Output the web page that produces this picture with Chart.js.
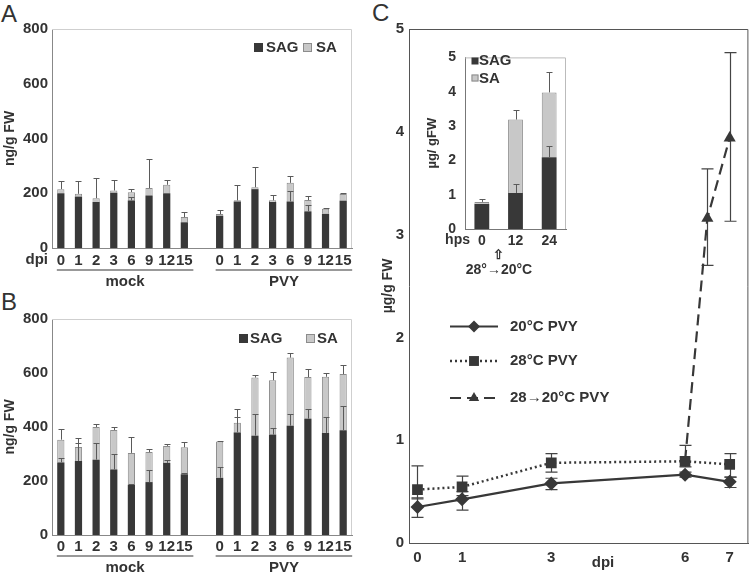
<!DOCTYPE html>
<html>
<head>
<meta charset="utf-8">
<script src="https://cdn.jsdelivr.net/npm/chart.js@4.4.0/dist/chart.umd.min.js"></script>
<style>
  body { margin: 0; background: #fff; width: 756px; height: 574px; overflow: hidden; position: relative; }
  canvas { position: absolute; }
  .panel { position: absolute; font: 24px/24px "Liberation Sans", Arial, sans-serif; color: #333; }
</style>
</head>
<body>
<div class="panel" style="left:1px;top:2px">A</div>
<div class="panel" style="left:1px;top:290px">B</div>
<div class="panel" style="left:372px;top:1px">C</div>
<canvas id="chartA" width="380" height="290" style="left:0;top:0"></canvas>
<canvas id="chartB" width="380" height="289" style="left:0;top:285px"></canvas>
<canvas id="chartC" width="376" height="574" style="left:380px;top:0"></canvas>
<canvas id="chartInset" width="160" height="240" style="left:420px;top:40px"></canvas>
<script>
const FONT = '"Liberation Sans", Arial, sans-serif';
Chart.defaults.font.family = FONT;
Chart.defaults.color = '#333';

// dpi categories for panels A and B
const dpiLabels = ['0', '1', '2', '3', '6', '9', '12', '15'];

// Panel A: ng/g FW (SAG bottom, SA on top, err = top of error bar)
const sagA_mock = [200, 188, 168, 202, 174, 192, 200, 94];
const saA_mock = [15, 10, 14, 8, 30, 27, 31, 19];
const errA_mock = [243, 245, 255, 249, 215, 325, 247, 132];
const sagErrA_mock = [null, null, null, null, 188, null, null, null];
const sagA_pvy = [118, 170, 215, 168, 170, 134, 125, 173];
const saA_pvy = [6, 4, 7, 6, 68, 41, 18, 24];
const errA_pvy = [139, 231, 297, 195, 264, 191, 146, 200];
const sagErrA_pvy = [null, null, null, null, 208, 158, null, null];

// Panel B
const sagB_mock = [269, 274, 279, 243, 186, 196, 267, 225];
const saB_mock = [84, 52, 121, 146, 118, 111, 63, 100];
const errB_mock = [393, 360, 410, 400, 363, 318, 337, 346];
const sagErrB_mock = [285, 341, 341, 300, 189, 241, 279, 230];
const sagB_pvy = [212, 380, 368, 372, 405, 431, 378, 388];
const saB_pvy = [134, 36, 215, 201, 252, 154, 208, 208];
const errB_pvy = [349, 467, 594, 604, 673, 615, 600, 630];
const sagErrB_pvy = [253, 437, 447, 396, 447, 467, 437, 478];

// Panel C: µg/g FW over dpi
const dpiC = [0, 1, 3, 6, 7];
const c20 = [0.35, 0.425, 0.58, 0.665, 0.595];
const c20Lo = [0.25, 0.32, 0.52, 0.64, 0.54];
const c20Hi = [0.44, 0.5, 0.63, 0.69, 0.64];
const c28 = [0.52, 0.545, 0.78, 0.795, 0.765];
const c28Lo = [0.43, 0.46, 0.69, 0.74, 0.64];
const c28Hi = [0.75, 0.65, 0.87, 0.95, 0.87];
const dpiShift = [6, 6.5, 7];
const cShift = [0.8, 3.16, 3.94];
const cShiftLo = [null, 2.7, 3.13];
const cShiftHi = [null, 3.64, 4.77];

// Inset: µg/gFW over hours post shift
const hpsLabels = ['0', '12', '24'];
const sagIn = [0.73, 1.05, 2.09];
const saIn = [0.06, 2.14, 1.89];
const errIn = [0.87, 3.47, 4.57];
const sagErrIn = [null, 1.32, 2.41];

const DARK = '#383838', LIGHT = '#c8c8c8', LIGHT_EDGE = '#8c8c8c';

function joinGroups(m, p) { return m.concat([null], p); }
function addUp(a, b) { return a.map((v, i) => v == null ? null : v + b[i]); }

function label(ctx, s, x, y, size, align) {
  ctx.font = 'bold ' + size + 'px ' + FONT;
  ctx.textAlign = align || 'left';
  ctx.textBaseline = 'middle';
  ctx.fillStyle = '#333';
  ctx.fillText(s, x, y);
}

function frameTopRight(chart, color) {
  const { ctx, chartArea: { left, top, right, bottom } } = chart;
  ctx.save();
  ctx.strokeStyle = color;
  ctx.lineWidth = 1;
  ctx.beginPath();
  ctx.moveTo(left, top + 0.5);
  ctx.lineTo(right - 0.5, top + 0.5);
  ctx.lineTo(right - 0.5, bottom);
  ctx.stroke();
  ctx.restore();
}

function square(ctx, x, y, size, fill, edge) {
  ctx.fillStyle = fill;
  ctx.fillRect(x, y, size, size);
  if (edge) {
    ctx.strokeStyle = edge;
    ctx.lineWidth = 1;
    ctx.strokeRect(x + 0.5, y + 0.5, size - 1, size - 1);
  }
}

// vertical error bars on stacked bars (upper side only)
const barErrors = {
  id: 'barErrors',
  afterDatasetsDraw(chart, args, o) {
    const { ctx, scales: { x, y } } = chart;
    ctx.save();
    ctx.strokeStyle = o.color;
    ctx.lineWidth = 1;
    o.sets.forEach(s => s.from.forEach((v, i) => {
      const e = s.to[i];
      if (v == null || e == null) return;
      const px = Math.round(x.getPixelForValue(i)) + 0.5;
      const y0 = y.getPixelForValue(v), y1 = Math.round(y.getPixelForValue(e)) + 0.5;
      ctx.beginPath();
      ctx.moveTo(px, y0);
      ctx.lineTo(px, y1);
      ctx.moveTo(px - o.cap, y1);
      ctx.lineTo(px + o.cap, y1);
      ctx.stroke();
    }));
    ctx.restore();
  }
};

function barChart(id, d, geo) {
  const sag = joinGroups(d.sag[0], d.sag[1]);
  const sa = joinGroups(d.sa[0], d.sa[1]);
  const total = addUp(sag, sa);
  const err = joinGroups(d.err[0], d.err[1]);
  const sagErr = joinGroups(d.sagErr[0], d.sagErr[1]);
  return new Chart(document.getElementById(id), {
    type: 'bar',
    data: {
      labels: dpiLabels.concat([''], dpiLabels),
      datasets: [
        { label: 'SAG', data: sag, backgroundColor: DARK, borderWidth: 0, barPercentage: 0.41, categoryPercentage: 1 },
        { label: 'SA', data: sa, backgroundColor: LIGHT, borderColor: LIGHT_EDGE, borderWidth: 1, barPercentage: 0.41, categoryPercentage: 1 }
      ]
    },
    options: {
      responsive: false,
      animation: false,
      layout: { padding: { top: geo.top, right: geo.right, left: 0, bottom: 0 } },
      plugins: {
        legend: { display: false },
        tooltip: { enabled: false },
        barErrors: { cap: 3, color: '#5a5a5a', sets: [{ from: total, to: err }, { from: sag, to: sagErr }] }
      },
      scales: {
        x: {
          stacked: true,
          grid: { display: false, drawTicks: false },
          border: { color: '#888' },
          ticks: { autoSkip: false, maxRotation: 0, padding: geo.tickPad, color: '#333', font: { size: 15, weight: 'bold' } },
          afterFit: s => { s.height = geo.xHeight; }
        },
        y: {
          stacked: true,
          min: 0,
          max: 800,
          grid: { display: false, drawTicks: false },
          border: { color: '#888' },
          ticks: { stepSize: 200, padding: 4, color: '#333', font: { size: 15, weight: 'bold' } },
          title: { display: true, text: 'ng/g FW', color: '#333', font: { size: 14, weight: 'bold' }, padding: { top: 2, bottom: 0 } },
          afterFit: s => { s.width = 52; }
        }
      }
    },
    plugins: [barErrors, { id: 'extras', afterDraw: ch => geo.extras(ch) }]
  });
}

function groupUnderlines(chart, lineDy, textDy) {
  const { ctx, chartArea: { bottom }, scales: { x } } = chart;
  const groups = [['mock', 0, 7], ['PVY', 9, 16]];
  ctx.save();
  ctx.strokeStyle = '#777';
  ctx.lineWidth = 1.5;
  groups.forEach(([name, a, b]) => {
    const x0 = x.getPixelForValue(a) - 4, x1 = x.getPixelForValue(b) + 9;
    ctx.beginPath();
    ctx.moveTo(x0, bottom + lineDy);
    ctx.lineTo(x1, bottom + lineDy);
    ctx.stroke();
    label(ctx, name, (x0 + x1) / 2, bottom + textDy, 15, 'center');
  });
  ctx.restore();
}

barChart('chartA', {
  sag: [sagA_mock, sagA_pvy], sa: [saA_mock, saA_pvy],
  err: [errA_mock, errA_pvy], sagErr: [sagErrA_mock, sagErrA_pvy]
}, {
  top: 29, right: 28, xHeight: 42, tickPad: 4,
  extras(chart) {
    const { ctx, chartArea } = chart;
    frameTopRight(chart, '#cfcfcf');
    ctx.save();
    label(ctx, 'dpi', chartArea.left - 4, chartArea.bottom + 12, 15, 'right');
    groupUnderlines(chart, 22, 34);
    square(ctx, 254, 43, 9, DARK);
    label(ctx, 'SAG', 266, 47.5, 15);
    square(ctx, 303, 43, 9, LIGHT, LIGHT_EDGE);
    label(ctx, 'SA', 316, 47.5, 15);
    ctx.restore();
  }
});

barChart('chartB', {
  sag: [sagB_mock, sagB_pvy], sa: [saB_mock, saB_pvy],
  err: [errB_mock, errB_pvy], sagErr: [sagErrB_mock, sagErrB_pvy]
}, {
  top: 34, right: 28, xHeight: 39, tickPad: 3,
  extras(chart) {
    const { ctx } = chart;
    frameTopRight(chart, '#cfcfcf');
    ctx.save();
    groupUnderlines(chart, 21, 33);
    square(ctx, 239, 49, 9, DARK);
    label(ctx, 'SAG', 250, 53.5, 15);
    square(ctx, 306, 49, 9, LIGHT, LIGHT_EDGE);
    label(ctx, 'SA', 317, 53.5, 15);
    ctx.restore();
  }
});

// error bars (both directions) for the line chart
const lineErrors = {
  id: 'lineErrors',
  beforeDatasetsDraw(chart, args, o) {
    const { ctx, scales: { x, y } } = chart;
    ctx.save();
    ctx.strokeStyle = '#444';
    ctx.lineWidth = 1.2;
    o.sets.forEach(s => s.x.forEach((xv, i) => {
      if (s.lo[i] == null) return;
      const px = Math.round(x.getPixelForValue(xv)) + 0.5;
      const yl = y.getPixelForValue(s.lo[i]), yh = y.getPixelForValue(s.hi[i]);
      ctx.beginPath();
      ctx.moveTo(px, yl); ctx.lineTo(px, yh);
      ctx.moveTo(px - 6, yl); ctx.lineTo(px + 6, yl);
      ctx.moveTo(px - 6, yh); ctx.lineTo(px + 6, yh);
      ctx.stroke();
    }));
    ctx.restore();
  }
};

const legendC = {
  id: 'legendC',
  afterDraw(chart) {
    const { ctx } = chart;
    const rows = [326.5, 361, 398];
    ctx.save();
    chart.data.datasets.forEach((ds, i) => {
      const y = rows[i];
      ctx.strokeStyle = DARK;
      ctx.lineWidth = ds.borderWidth;
      ctx.setLineDash(ds.borderDash || []);
      ctx.beginPath();
      ctx.moveTo(70, y); ctx.lineTo(118, y);
      ctx.stroke();
      ctx.setLineDash([]);
      ctx.fillStyle = DARK;
      Chart.helpers.drawPoint(ctx, { pointStyle: ds.pointStyle, radius: ds.legendRadius, borderWidth: 0, rotation: 0 }, 94, y);
      label(ctx, ds.label, 130, y, 15);
    });
    label(ctx, 'dpi', 223, 563, 15, 'center');
    frameTopRight(chart, '#555');
    ctx.restore();
  }
};

new Chart(document.getElementById('chartC'), {
  type: 'line',
  data: {
    datasets: [
      {
        label: '20°C PVY', data: dpiC.map((x, i) => ({ x, y: c20[i] })),
        borderColor: DARK, backgroundColor: DARK, borderWidth: 2.2,
        pointStyle: 'rectRot', pointRadius: 7, pointBorderWidth: 0, legendRadius: 6
      },
      {
        label: '28°C PVY', data: dpiC.map((x, i) => ({ x, y: c28[i] })),
        borderColor: DARK, backgroundColor: DARK, borderWidth: 2.5, borderDash: [2, 3],
        pointStyle: 'rect', pointRadius: 7.6, pointBorderWidth: 0, legendRadius: 7
      },
      {
        label: '28→20°C PVY', data: dpiShift.map((x, i) => ({ x, y: cShift[i] })),
        borderColor: DARK, backgroundColor: DARK, borderWidth: 2.2, borderDash: [11, 6],
        pointStyle: 'triangle', pointRadius: [0, 7, 7], pointBorderWidth: 0, legendRadius: 6
      }
    ]
  },
  options: {
    responsive: false,
    animation: false,
    layout: { padding: { top: 29, right: 1, left: 0, bottom: 0 } },
    plugins: {
      legend: { display: false },
      tooltip: { enabled: false },
      lineErrors: {
        sets: [
          { x: dpiC, lo: c20Lo, hi: c20Hi },
          { x: dpiC, lo: c28Lo, hi: c28Hi },
          { x: dpiShift, lo: cShiftLo, hi: cShiftHi }
        ]
      }
    },
    scales: {
      x: {
        type: 'linear', min: -0.19, max: 7.42,
        afterBuildTicks: s => { s.ticks = dpiC.map(v => ({ value: v })); },
        grid: { display: false, drawTicks: false },
        border: { color: '#555' },
        ticks: { padding: 6, color: '#333', font: { size: 15, weight: 'bold' } },
        afterFit: s => { s.height = 31; }
      },
      y: {
        min: 0, max: 5,
        grid: { display: false, drawTicks: false },
        border: { color: '#555' },
        ticks: { stepSize: 1, padding: 5, color: '#333', font: { size: 15, weight: 'bold' } },
        title: { display: true, text: 'µg/g FW', color: '#333', font: { size: 14, weight: 'bold' }, padding: 0 },
        afterFit: s => { s.width = 29; }
      }
    }
  },
  plugins: [lineErrors, legendC]
});

new Chart(document.getElementById('chartInset'), {
  type: 'bar',
  data: {
    labels: hpsLabels,
    datasets: [
      { label: 'SAG', data: sagIn, backgroundColor: DARK, borderWidth: 0, barPercentage: 0.44, categoryPercentage: 1 },
      { label: 'SA', data: saIn, backgroundColor: LIGHT, borderColor: LIGHT_EDGE, borderWidth: 1, barPercentage: 0.44, categoryPercentage: 1 }
    ]
  },
  options: {
    responsive: false,
    animation: false,
    layout: { padding: { top: 11, right: 14, left: 0, bottom: 0 } },
    plugins: {
      legend: { display: false },
      tooltip: { enabled: false },
      barErrors: { cap: 3, color: '#5a5a5a', sets: [{ from: addUp(sagIn, saIn), to: errIn }, { from: sagIn, to: sagErrIn }] }
    },
    scales: {
      x: {
        stacked: true,
        grid: { display: false, drawTicks: false },
        border: { color: '#777' },
        ticks: { padding: 4, color: '#333', font: { size: 14, weight: 'bold' } },
        afterFit: s => { s.height = 51; }
      },
      y: {
        stacked: true, min: 0, max: 5,
        grid: { display: false, drawTicks: false },
        border: { color: '#777' },
        ticks: { stepSize: 1, padding: 9, color: '#333', font: { size: 14, weight: 'bold' } },
        title: { display: true, text: 'µg/ gFW', color: '#333', font: { size: 13, weight: 'bold' }, padding: { top: 5, bottom: 0 } },
        afterFit: s => { s.width = 45; }
      }
    }
  },
  plugins: [barErrors, {
    id: 'insetExtras',
    afterDraw(chart) {
      const { ctx, chartArea: { bottom } } = chart;
      frameTopRight(chart, '#bbb');
      ctx.save();
      label(ctx, 'hps', 50, bottom + 11.5, 14, 'right');
      label(ctx, '⇧', 78, bottom + 26, 13, 'center');
      label(ctx, '28°→20°C', 79, bottom + 41, 14, 'center');
      square(ctx, 51.5, 17.5, 7, DARK);
      label(ctx, 'SAG', 59, 21, 15);
      square(ctx, 51.5, 34.5, 7, LIGHT, LIGHT_EDGE);
      label(ctx, 'SA', 59, 38.5, 15);
      ctx.restore();
    }
  }]
});
</script>
</body>
</html>
